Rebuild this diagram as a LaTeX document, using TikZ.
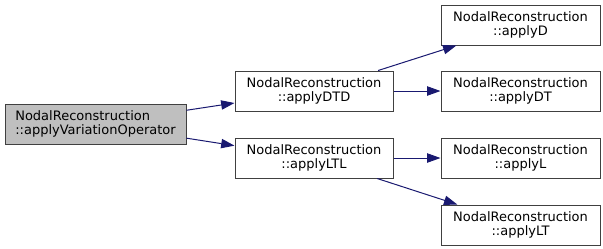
\documentclass[tikz,border=0pt]{standalone}
\usepackage{fontspec}
\setmainfont{DejaVu Sans}
\usetikzlibrary{arrows.meta,positioning}

\definecolor{edgeblue}{HTML}{191970}
\definecolor{boxline}{HTML}{404040}
\definecolor{rootfill}{HTML}{BFBFBF}

\begin{document}
\begin{tikzpicture}[
  x=0.75pt, y=-0.75pt,
  fn/.style={draw=boxline, line width=0.75pt, fill=white, align=center, minimum width=119.25pt, minimum height=30pt, inner sep=2pt, font=\fontsize{9.75pt}{10.5pt}\selectfont},
  rootfn/.style={fn, fill=rootfill, align=left, minimum width=135.75pt},
  call/.style={-{Triangle[length=10pt, width=7pt]}, draw=edgeblue, line width=0.75pt}
]
\useasboundingbox (0,0) rectangle (603,248);

\node[rootfn] (root) at (95.5,124) {NodalReconstruction\\::applyVariationOperator};
\node[fn, minimum width=118.5pt, right=36pt of root, yshift=24.75pt] (dtd) {NodalReconstruction\\::applyDTD};
\node[fn, minimum width=118.5pt, below=19.5pt of dtd] (ltl) {NodalReconstruction\\::applyLTL};

\node[fn, right=35.25pt of dtd] (dt) {NodalReconstruction\\::applyDT};
\node[fn, above=18.75pt of dt] (d) {NodalReconstruction\\::applyD};
\node[fn, right=35.25pt of ltl] (l) {NodalReconstruction\\::applyL};
\node[fn, below=19.5pt of l] (lt) {NodalReconstruction\\::applyLT};

\draw[call] (root) -- (dtd);
\draw[call] (root) -- (ltl);
\draw[call] (dtd) -- (d);
\draw[call] (dtd) -- (dt);
\draw[call] (ltl) -- (l);
\draw[call] (ltl) -- (lt);

\end{tikzpicture}
\end{document}
